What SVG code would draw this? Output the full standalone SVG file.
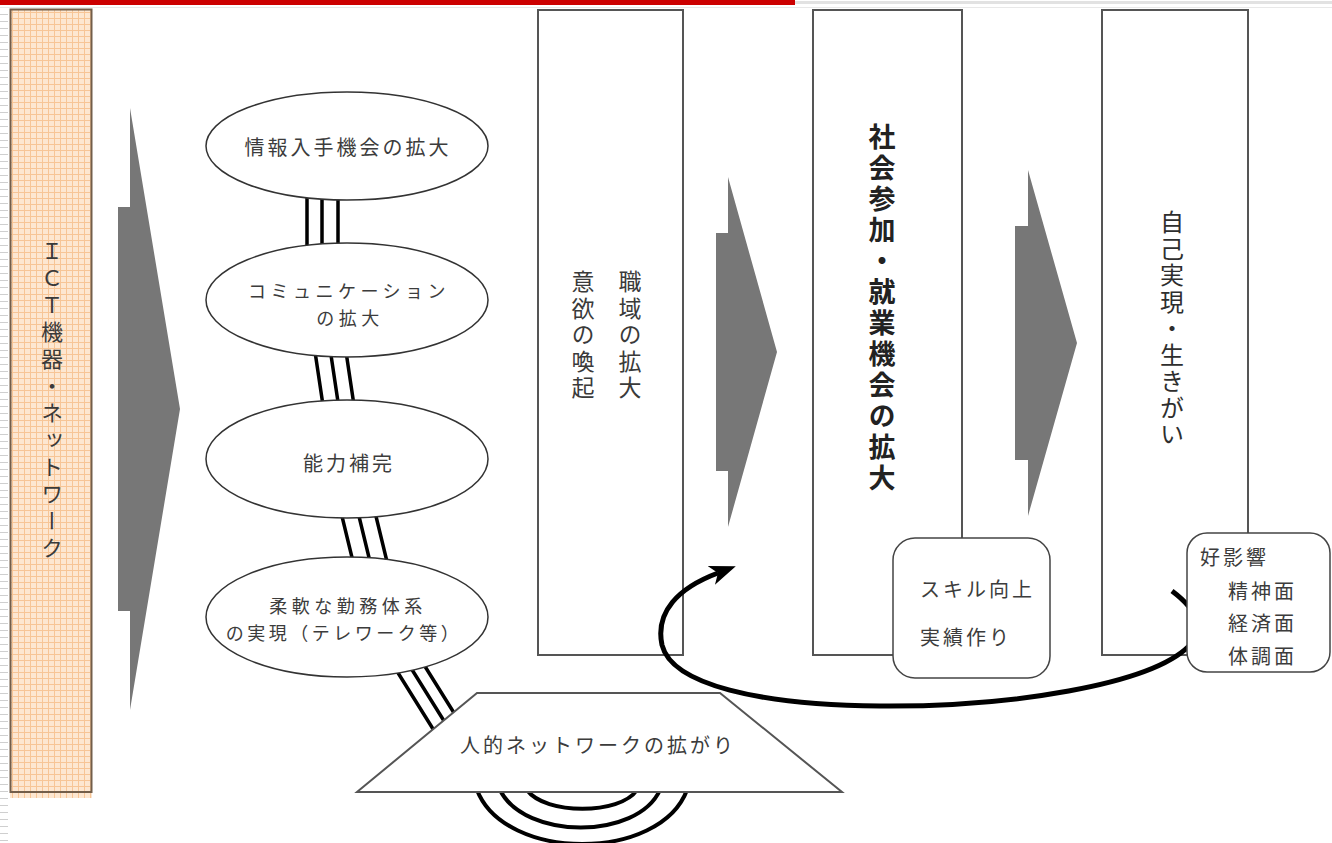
<svg xmlns="http://www.w3.org/2000/svg" width="1332" height="843" viewBox="0 0 1332 843">
<defs>
<style>
.t{font-family:"Noto Sans CJK JP","Noto Sans",sans-serif;font-size:20px;fill:#3c3c3c;letter-spacing:3px;dominant-baseline:central}
.s{font-size:18px;letter-spacing:4.5px}
.c{text-anchor:middle}
.v{font-family:"Noto Sans CJK JP","Noto Sans",sans-serif;writing-mode:vertical-rl;fill:#3a3a3a}
.col{fill:none;stroke:#555;stroke-width:2}
.ell{fill:#fff;stroke:#333;stroke-width:1.5}
.tri{fill:none;stroke:#000;stroke-width:3.5}
.big{fill:#777}
.rbox{fill:#fff;stroke:#444;stroke-width:1.5}
</style>
<pattern id="grid" width="6" height="6" patternUnits="userSpaceOnUse">
<rect width="6" height="6" fill="#fde7d1"/>
<path d="M0,0.5H6M0.5,0V6" stroke="#f7c596" stroke-width="1"/>
</pattern>
<pattern id="ticks" width="9" height="7" patternUnits="userSpaceOnUse">
<path d="M0,0.5H8" stroke="#cfcfcf" stroke-width="1"/>
</pattern>
<marker id="ah" viewBox="0 -10 26 20" refX="7" refY="0" markerWidth="26" markerHeight="20" markerUnits="userSpaceOnUse" orient="auto">
<path d="M0,-10 L26,0 L0,10 L7,0 Z" fill="#000"/>
</marker>
</defs>
<rect width="1332" height="843" fill="#fff"/>
<g id="frame">
<rect x="0" y="0" width="795" height="5" fill="#cc0000"/>
<path d="M795,2.5H1332" stroke="#e2e2e2" stroke-width="3"/>
<path d="M0,7.5H1332" stroke="#e8e8e8" stroke-width="1"/>
<rect x="0" y="10" width="8" height="833" fill="url(#ticks)"/>
</g>
<g id="ict">
<rect x="10" y="9" width="82" height="789" fill="url(#grid)"/>
<rect x="10.5" y="9.5" width="81" height="782.5" fill="none" stroke="#735e4a" stroke-width="2"/>
<text class="v" x="52" y="240" style="font-size:22px;letter-spacing:5px">ＩＣＴ機器・ネットワーク</text>
</g>
<g id="box-willingness">
<rect class="col" x="538" y="10" width="145" height="645"/>
<text class="v" x="630" y="270" style="font-size:23px;letter-spacing:3.5px">職域の拡大</text>
<text class="v" x="583" y="270" style="font-size:23px;letter-spacing:3.5px">意欲の喚起</text>
</g>
<g id="box-social">
<rect class="col" x="813" y="10" width="149" height="645"/>
<text class="v" x="882" y="123" style="font-size:27px;letter-spacing:4px;font-weight:bold;fill:#222">社会参加・就業機会の拡大</text>
</g>
<g id="box-self">
<rect class="col" x="1102" y="10" width="146" height="645"/>
<text class="v" x="1172" y="210" style="font-size:24px;letter-spacing:2.5px;fill:#2e2e2e">自己実現・生きがい</text>
</g>
<g id="connectors">
<polygon class="big" points="130,108 180,409 130,710 130,611 118,611 118,207 130,207"/>
<polygon class="big" points="728,177 777,352 728,527 728,471 716,471 716,233 728,233"/>
<polygon class="big" points="1028,170 1077,343 1028,516 1028,460 1015,460 1015,226 1028,226"/>
<path class="tri" d="M307,185V255M322,185V255M338,185V255"/>
<path class="tri" d="M314,345L324,412M329.5,345L339.5,412M345,345L355,412"/>
<path class="tri" d="M340,508L356,574M357,508L373,574M374,508L390,574"/>
<path class="tri" d="M390,660L443,745M406,660L459,745M421,660L474,745"/>
<path d="M527,790 C545,815 620,815 637,790" fill="none" stroke="#000" stroke-width="4"/>
<path d="M500,790 C525,840 637,840 660,790" fill="none" stroke="#000" stroke-width="4"/>
<path d="M477,790 C505,862 660,862 687,790" fill="none" stroke="#000" stroke-width="4"/>
<path d="M1172,591 C1200,612 1205,632 1189,646 C1150,685 1010,707 880,706 C760,705 672,685 662,645 C655,612 678,588 718,573" fill="none" stroke="#000" stroke-width="5" marker-end="url(#ah)"/>
</g>
<g id="e-info">
<ellipse class="ell" cx="347" cy="146" rx="141" ry="54"/>
<text class="t c" x="348" y="146">情報入手機会の拡大</text>
</g>
<g id="e-comm">
<ellipse class="ell" cx="347" cy="300" rx="141" ry="57"/>
<text class="t s c" x="349" y="290">コミュニケーション</text>
<text class="t s c" x="350" y="317">の拡大</text>
</g>
<g id="e-ability">
<ellipse class="ell" cx="347" cy="459" rx="141" ry="59"/>
<text class="t c" x="349" y="462">能力補完</text>
</g>
<g id="e-flex">
<ellipse class="ell" cx="347" cy="617" rx="141" ry="60"/>
<text class="t s c" x="348" y="605">柔軟な勤務体系</text>
<text class="t s c" x="344" y="632" style="letter-spacing:3.5px">の実現（テレワーク等）</text>
</g>
<g id="human-network">
<polygon points="477,693 720,693 842,792 357,792" fill="#fff" stroke="#555" stroke-width="2"/>
<text class="t c" x="598" y="744">人的ネットワークの拡がり</text>
</g>
<g id="skill">
<rect class="rbox" x="893" y="538" width="157" height="140" rx="22"/>
<text class="t" x="920" y="588">スキル向上</text>
<text class="t" x="920" y="636">実績作り</text>
</g>
<g id="effect">
<rect class="rbox" x="1187" y="533" width="143" height="139" rx="20"/>
<text class="t" x="1200" y="556">好影響</text>
<text class="t" x="1228" y="590">精神面</text>
<text class="t" x="1228" y="622">経済面</text>
<text class="t" x="1228" y="655">体調面</text>
</g>
</svg>
